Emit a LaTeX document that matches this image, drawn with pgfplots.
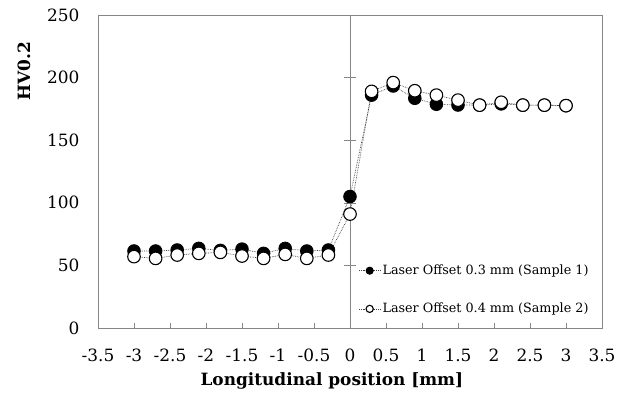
\documentclass[border=0pt]{standalone}
\usepackage{pgfplots}
\pgfplotsset{compat=1.18}
\usepackage{fontspec}
\setmainfont{DejaVu Serif}
\definecolor{axgray}{RGB}{134,134,134}
\begin{document}
\begin{tikzpicture}
\path[use as bounding box] (-98bp,-75bp) rectangle (524bp,328bp);
\begin{axis}[
  at={(0,0)}, anchor=south west,
  scale only axis, width=504bp, height=313bp,
  xmin=-3.5, xmax=3.5, ymin=0, ymax=250,
  xtick={-3.5,-3,...,3.5}, ytick={0,50,...,250},
  /pgf/number format/assume math mode=true,
  axis line style={axgray, line width=0.8pt},
  xtick pos=left, ytick pos=left, yticklabel pos=left, tick align=inside, major tick length=5bp,
  xtick style={axgray, line width=0.6pt},
  ytick style={draw=none, opacity=0},
  tick label style={font=\fontsize{17}{20}\selectfont},
  xticklabel style={yshift=-17bp},
  yticklabel style={xshift=-15bp},
  xlabel={\textbf{Longitudinal position [mm]}},
  xlabel style={font=\fontsize{17}{20}\selectfont, at={(axis description cs:0.464,-0.170)}, anchor=center},
  ylabel={\textbf{HV0.2}},
  ylabel style={font=\fontsize{17}{20}\selectfont, at={(axis description cs:-0.147,0.821)}, anchor=center, rotate=0},
  legend style={draw=none, fill=none, at={(axis cs:0.12,52)}, anchor=north west,
    font=\fontsize{12.8}{15}\selectfont, row sep=23bp, inner sep=0pt,
    nodes={inner sep=2bp}},
  legend cell align=left,
  legend image code/.code={\draw[#1, mark size=3.6bp, mark repeat=2, mark phase=2] plot coordinates {(0bp,0bp) (10.5bp,0bp) (21bp,0bp)};},
  clip=false,
]
\draw[axgray, line width=0.6pt] (axis cs:0,0) -- (axis cs:0,250);
\draw[axgray, line width=0.6pt] (axis cs:-0.083,50) -- (axis cs:0.083,50);
\draw[axgray, line width=0.6pt] (axis cs:-0.083,100) -- (axis cs:0.083,100);
\draw[axgray, line width=0.6pt] (axis cs:-0.083,150) -- (axis cs:0.083,150);
\draw[axgray, line width=0.6pt] (axis cs:-0.083,200) -- (axis cs:0.083,200);
\addplot[densely dotted, line width=0.7pt, black!75, mark=*, mark size=6.3bp,
  mark options={solid, fill=black, draw=black, line width=0.9pt}]
coordinates {
(-3.0,61.5) (-2.7,61.5) (-2.4,62.3) (-2.1,63.6) (-1.8,62) (-1.5,63)
(-1.2,59.6) (-0.9,63.6) (-0.6,61.5) (-0.3,62.3) (0,105)
(0.3,186) (0.6,193.3) (0.9,183.5) (1.2,178.7) (1.5,178.1)
(1.8,178) (2.1,179) (2.4,178) (2.7,178) (3.0,177.6)
};
\addlegendentry{Laser Offset 0.3 mm (Sample 1)}
\addplot[densely dotted, line width=0.7pt, black!75, mark=*, mark size=6.3bp,
  mark options={solid, fill=white, draw=black, line width=1.1pt}]
coordinates {
(-3.0,57) (-2.7,55.6) (-2.4,58.3) (-2.1,59.6) (-1.8,60.4) (-1.5,57.5)
(-1.2,55.6) (-0.9,58.8) (-0.6,55.6) (-0.3,58.3) (0,91)
(0.3,189) (0.6,196) (0.9,189.5) (1.2,186) (1.5,182)
(1.8,178) (2.1,180.3) (2.4,178) (2.7,178) (3.0,177.6)
};
\addlegendentry{Laser Offset 0.4 mm (Sample 2)}
\end{axis}
\end{tikzpicture}
\end{document}
